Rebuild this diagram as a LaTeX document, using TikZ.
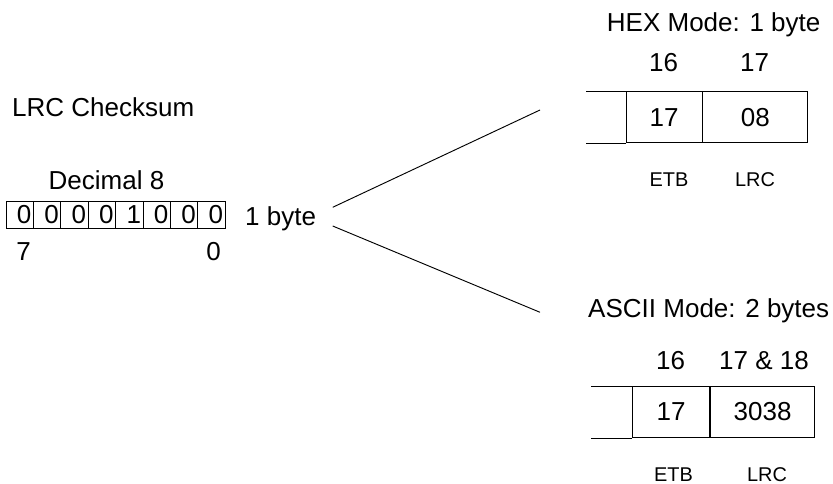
\documentclass[tikz,border=0pt]{standalone}
\usepackage{fontspec}
\setmainfont{Liberation Sans}
\usetikzlibrary{calc}

\begin{document}
\begin{tikzpicture}[
    x=0.03cm, y=-0.03cm,
    every node/.style={font=\fontsize{22.2}{26}\selectfont, inner sep=0pt},
    txt/.style={anchor=base},
    small/.style={anchor=base, font=\fontsize{17}{20}\selectfont},
    bitcell/.style={draw, line width=0.8pt, minimum height=0.81cm,
        text width=0.702cm, inner xsep=0.06cm, align=right},
    field/.style={draw, line width=0.8pt, minimum height=1.53cm},
    wire/.style={line width=0.8pt}
]
\useasboundingbox (0,0) rectangle (833,484);

% checksum byte
\node[txt, anchor=base west] (title) at (12,117) {LRC Checksum};
\node[txt] (decimal) at (106.5,190) {Decimal 8};
\foreach \bitval [count=\i from 0] in {0,0,0,0,1,0,0,0}
    \node[bitcell] (bit\i) at ({19.7+27.4*\i},214.5) {\bitval};
\node[txt] (msb) at (23.5,261) {7};
\node[txt] (lsb) at (213.5,261) {0};
\node[txt, anchor=base west] (onebyte) at (245,225.3) {1 byte};

% fork
\coordinate (fork1) at (332.7,207.3);
\coordinate (fork2) at (332.7,226);
\coordinate (hexin) at (540,110);
\coordinate (asciiin) at (540,312.3);
\draw[wire] (fork1) -- (hexin);
\draw[wire] (fork2) -- (asciiin);

% HEX mode
\node[txt, anchor=base west] (hexmode) at (606.7,32) {HEX Mode: 1 byte};
\node[txt] (hexpos1) at (663.5,72) {16};
\node[txt] (hexpos2) at (754.5,72) {17};
\node[field, minimum width=2.28cm] (hexetb) at (664,117.2) {17};
\node[field, minimum width=3.14cm, anchor=west] (hexlrc) at (hexetb.east) {08};
\draw[wire] (hexetb.north west) -- ++(-39.3,0) (hexetb.south west) -- ++(-39.3,0);
\node[small] (hexetbname) at (669,187) {ETB};
\node[small] (hexlrcname) at (755,187) {LRC};

% ASCII mode
\node[txt, anchor=base west] (asciimode) at (588,318) {ASCII Mode: 2 bytes};
\node[txt] (asciipos1) at (670.5,370) {16};
\node[txt] (asciipos2) at (764,370) {17 \& 18};
\node[field, minimum width=2.298cm] (asciietb) at (671,412) {17};
\node[field, minimum width=3.14cm, anchor=west] (asciilrc) at (asciietb.east) {3038};
\draw[wire] (asciietb.north west) -- ++(-41,0) (asciietb.south west) -- ++(-41,0);
\node[small] (asciietbname) at (673.5,481) {ETB};
\node[small] (asciilrcname) at (767,481) {LRC};

\end{tikzpicture}
\end{document}
